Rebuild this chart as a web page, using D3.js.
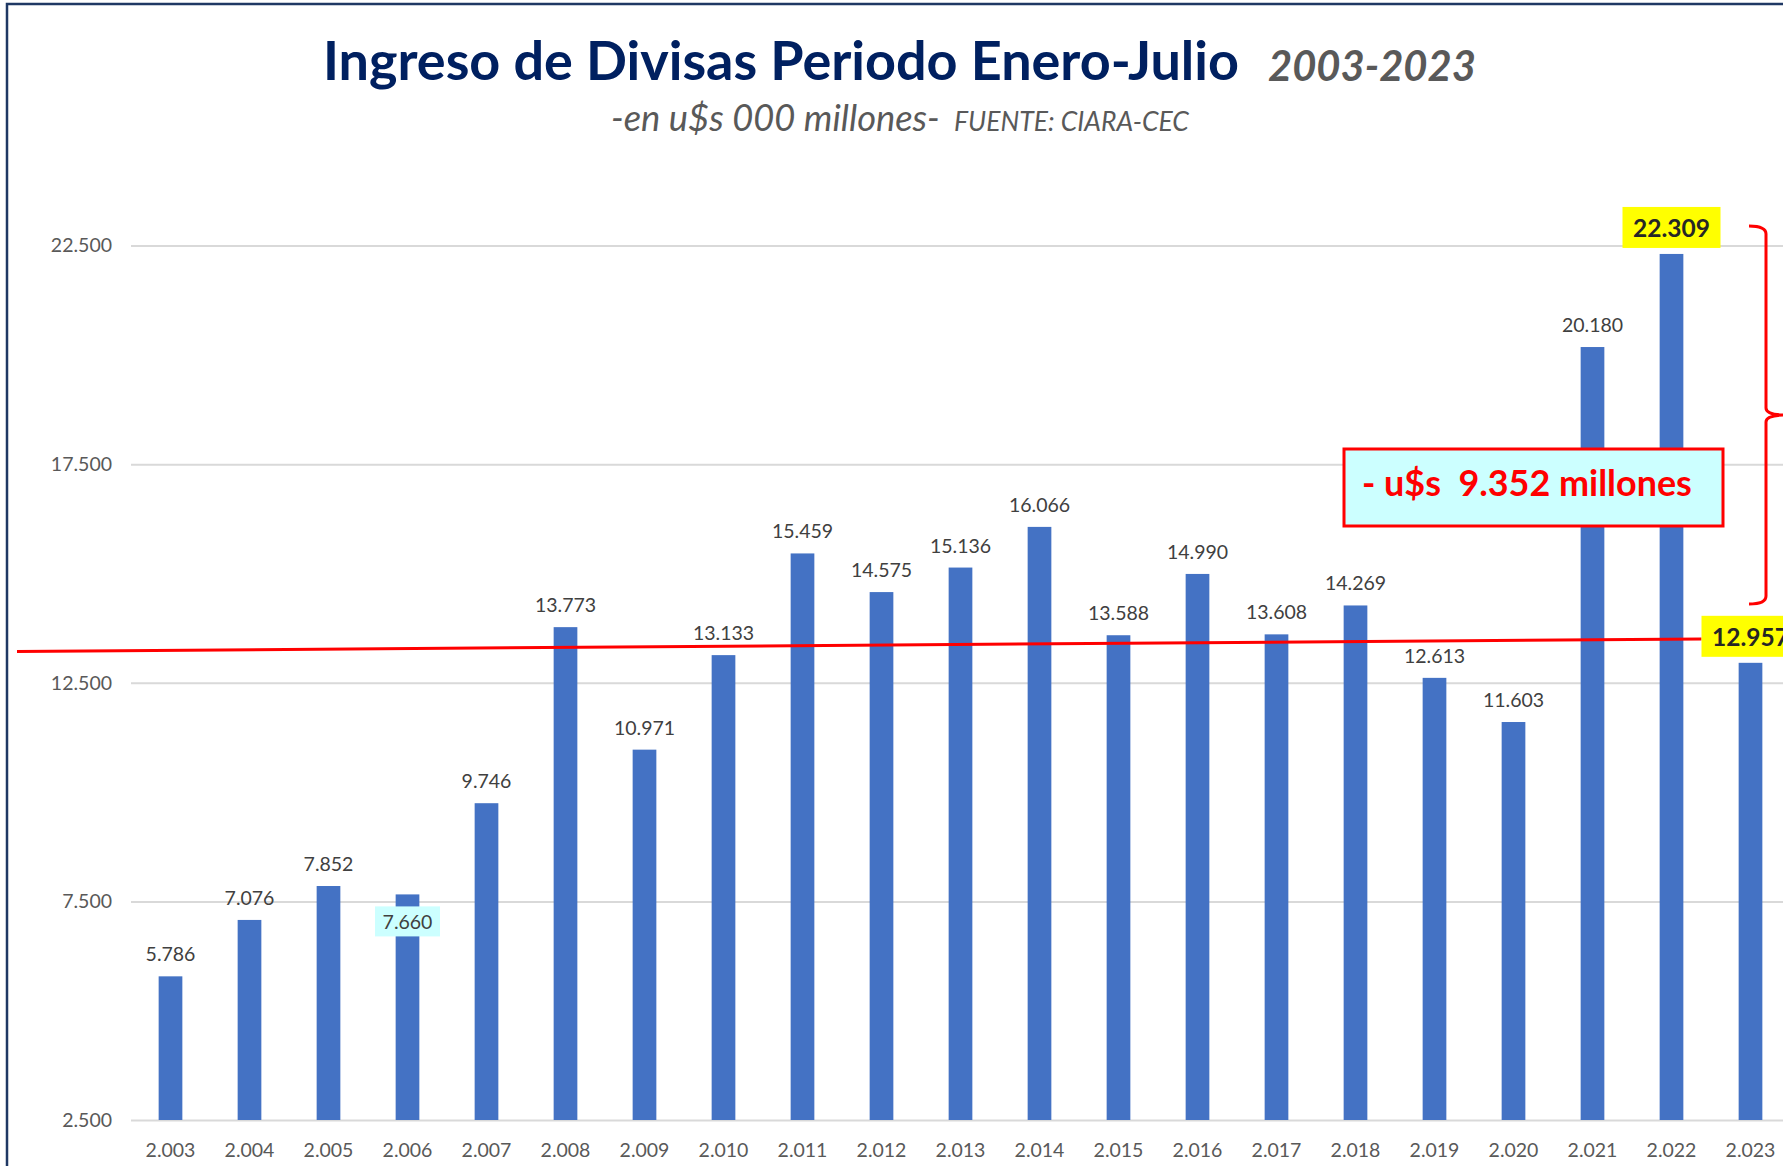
<!DOCTYPE html>
<html>
<head>
<meta charset="utf-8">
<script src="https://cdn.jsdelivr.net/npm/d3@7"></script>
<style>
body { margin: 0; background: #fff; }
svg { display: block; font-family: Lato, "Open Sans", sans-serif; }
</style>
</head>
<body>
<script>
const width = 1783;
const height = 1166;

// data (u$s millones, enero-julio)
const years = [2003, 2004, 2005, 2006, 2007, 2008, 2009, 2010, 2011, 2012, 2013,
               2014, 2015, 2016, 2017, 2018, 2019, 2020, 2021, 2022, 2023];
const values = [5786, 7076, 7852, 7660, 9746, 13773, 10971, 13133, 15459, 14575, 15136,
                16066, 13588, 14990, 13608, 14269, 12613, 11603, 20180, 22309, 12957];
const yTicks = [2500, 7500, 12500, 17500, 22500];
const yellowYears = [2022, 2023];
const cyanYears = [2006];
const diffText = "- u$s  9.352 millones";
const trendValues = [13216, 13502];   // hand drawn red line, left and right end
const braceValues = [22950, 14300];   // red brace, top and bottom

const fmt = d3.formatLocale({decimal: ",", thousands: ".", grouping: [3], currency: ["", ""]}).format(",d");

const svg = d3.select('body').append('svg').attr('width', width).attr('height', height);

const x = d3.scaleBand().domain(years).range([131, 1790]).paddingInner(0.7).paddingOuter(0.35);
const y = d3.scaleLinear().domain([2500, 22500]).range([1120, 245.6]);

function fit(sel, w) {
  const len = sel.node().getComputedTextLength();
  const fs = parseFloat(sel.style('font-size'));
  sel.style('font-size', (fs * w / len) + 'px');
}

// frame
svg.append('rect').attr('x', 7).attr('y', 4).attr('width', 1900).attr('height', 1300)
  .attr('fill', 'none').attr('stroke', '#1f3864').attr('stroke-width', 2.5);

// titles
const t1 = svg.append('text').attr('x', 323).attr('y', 80)
  .style('font-size', '58px').style('font-weight', 700).attr('fill', '#002060')
  .text('Ingreso de Divisas Periodo Enero-Julio');
fit(t1, 916);
const t2 = svg.append('text').attr('x', 1268).attr('y', 81)
  .style('font-size', '50px').style('font-weight', 700).style('font-style', 'italic').attr('fill', '#595959')
  .text('2003-2023');
fit(t2, 208);
const s1 = svg.append('text').attr('x', 611).attr('y', 131)
  .style('font-size', '32px').style('font-style', 'italic').attr('fill', '#595959')
  .text('-en u$s 000 millones-');
fit(s1, 329);
const s2 = svg.append('text').attr('x', 954).attr('y', 131)
  .style('font-size', '22px').style('font-style', 'italic').attr('fill', '#595959')
  .text('FUENTE: CIARA-CEC');
fit(s2, 235);

// y axis with gridlines
const yAxis = svg.append('g').attr('transform', 'translate(131,0)')
  .call(d3.axisLeft(y).tickValues(yTicks).tickSize(-(width - 131)).tickPadding(19).tickFormat(fmt));
yAxis.select('.domain').remove();
yAxis.selectAll('line').attr('stroke', '#d9d9d9').attr('stroke-width', 2);
yAxis.selectAll('text').attr('fill', '#595959').style('font-size', '19.5px').style('font-family', 'Lato');

// x axis labels
const xAxis = svg.append('g').attr('transform', 'translate(0,1120)')
  .call(d3.axisBottom(x).tickSize(0).tickPadding(23).tickFormat(fmt));
xAxis.select('.domain').remove();
xAxis.selectAll('text').attr('fill', '#595959').style('font-size', '19.5px').style('font-family', 'Lato');

const data = years.map((yr, i) => ({year: yr, value: values[i]}));

// bars
svg.append('g').selectAll('rect').data(data).join('rect')
  .attr('x', d => x(d.year)).attr('width', x.bandwidth())
  .attr('y', d => y(d.value)).attr('height', d => y(2500) - y(d.value))
  .attr('fill', '#4472c4');

// red trend line, ends at the left edge of the last yellow label
const lastX = x(2023) + x.bandwidth() / 2 - 49;
svg.append('line')
  .attr('x1', 17).attr('y1', y(trendValues[0]))
  .attr('x2', lastX).attr('y2', y(trendValues[1]))
  .attr('stroke', '#ff0000').attr('stroke-width', 3);

// plain value labels
const plain = data.filter(d => !yellowYears.includes(d.year) && !cyanYears.includes(d.year));
svg.append('g').selectAll('text').data(plain).join('text')
  .attr('x', d => x(d.year) + x.bandwidth() / 2).attr('y', d => y(d.value) - 15)
  .attr('text-anchor', 'middle').attr('fill', '#404040').style('font-size', '19.5px')
  .text(d => fmt(d.value));

// cyan boxed label (below bar top)
const cyan = data.filter(d => cyanYears.includes(d.year));
const cg = svg.append('g').selectAll('g').data(cyan).join('g')
  .attr('transform', d => `translate(${x(d.year) + x.bandwidth() / 2},${y(d.value) + 12})`);
cg.append('rect').attr('x', -32.5).attr('y', 0).attr('width', 65).attr('height', 30).attr('fill', '#ccffff');
cg.append('text').attr('y', 23).attr('text-anchor', 'middle').attr('fill', '#404040')
  .style('font-size', '19.5px').text(d => fmt(d.value));

// yellow boxed labels
const yellow = data.filter(d => yellowYears.includes(d.year));
const yg = svg.append('g').selectAll('g').data(yellow).join('g')
  .attr('transform', d => `translate(${x(d.year) + x.bandwidth() / 2},${y(d.value) - 6})`);
yg.append('rect').attr('x', -49).attr('y', -41).attr('width', 98).attr('height', 41).attr('fill', '#ffff00');
yg.append('text').attr('y', -11).attr('text-anchor', 'middle').attr('fill', '#262626')
  .style('font-size', '24.5px').style('font-weight', 700).text(d => fmt(d.value));

// red brace
const bx = 1766, by0 = y(braceValues[0]), by1 = y(braceValues[1]), bm = (by0 + by1) / 2;
svg.append('path')
  .attr('d', `M${bx - 17},${by0} Q${bx},${by0} ${bx},${by0 + 8} L${bx},${bm - 7} Q${bx},${bm} ${bx + 20},${bm}` +
             ` Q${bx},${bm} ${bx},${bm + 7} L${bx},${by1 - 8} Q${bx},${by1} ${bx - 17},${by1}`)
  .attr('fill', 'none').attr('stroke', '#ff0000').attr('stroke-width', 3);

// difference annotation box
svg.append('rect').attr('x', 1344).attr('y', 449).attr('width', 379).attr('height', 77)
  .attr('fill', '#ccffff').attr('stroke', '#ff0000').attr('stroke-width', 3);
const dt = svg.append('text').attr('x', 1362).attr('y', 496)
  .style('font-size', '36px').style('font-weight', 700).attr('fill', '#ff0000')
  .style('white-space', 'pre').text(diffText);
fit(dt, 330);
</script>
</body>
</html>
